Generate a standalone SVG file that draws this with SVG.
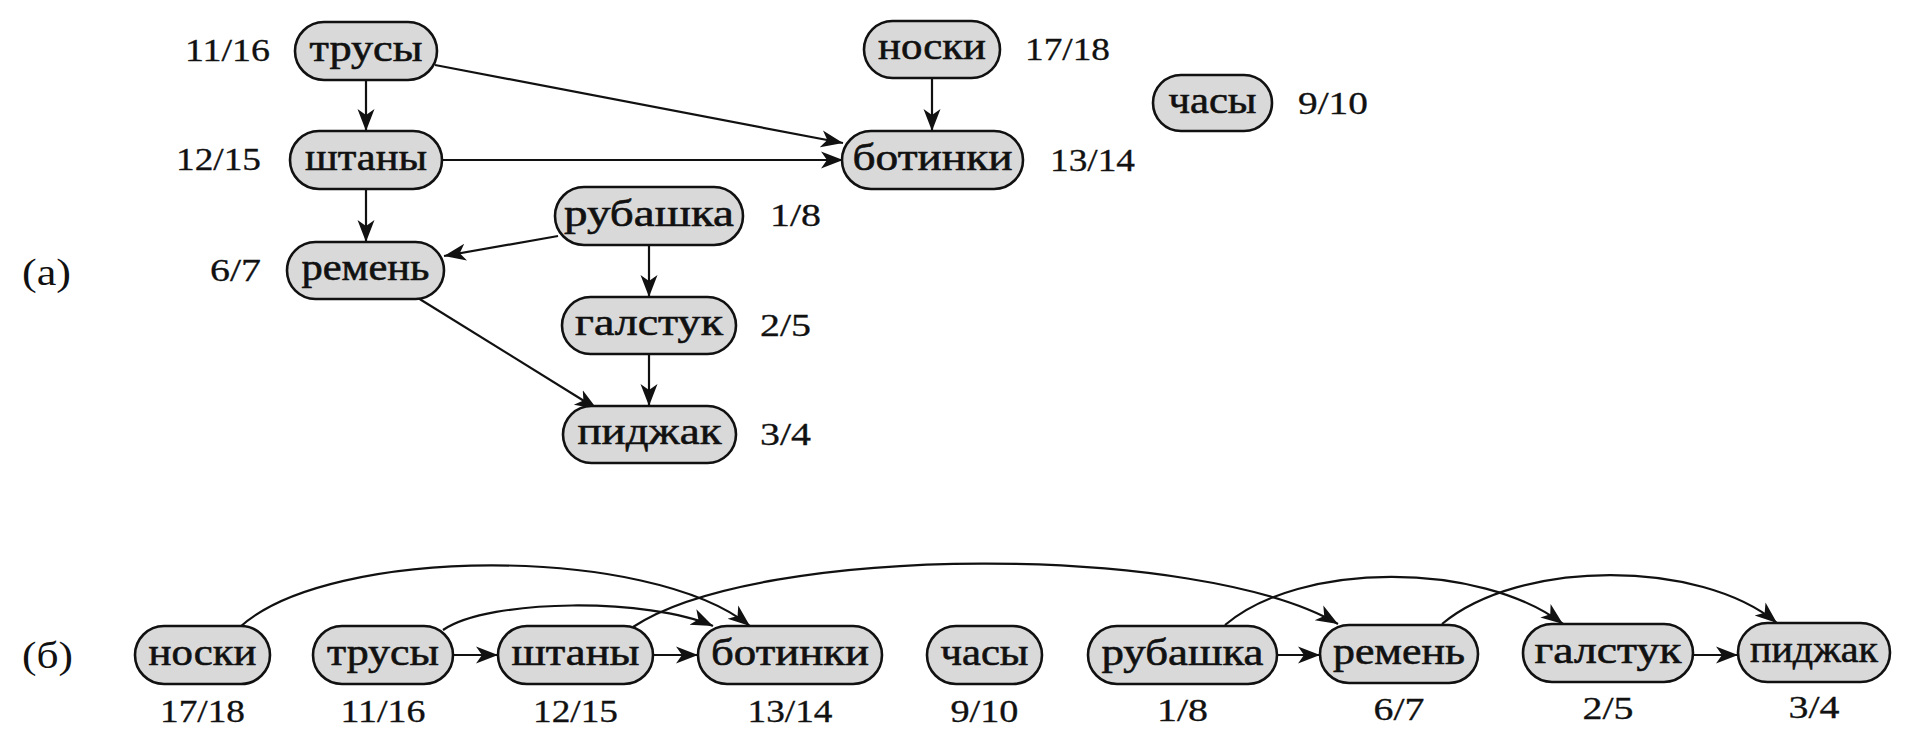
<svg xmlns="http://www.w3.org/2000/svg" width="1908" height="747" viewBox="0 0 1908 747">
  <style>
    .node rect { fill: #d9d9d9; stroke: #111; stroke-width: 2.6; }
    .node text { font-family: "Liberation Serif", "DejaVu Serif", serif; font-size: 38px; fill: #111; stroke: #111; stroke-width: 0.6; text-anchor: middle; }
    .num { font-family: "Liberation Serif", "DejaVu Serif", serif; font-size: 31px; fill: #111; stroke: #111; stroke-width: 0.3; }
    .part { font-family: "Liberation Serif", "DejaVu Serif", serif; font-size: 38px; fill: #111; }
    .edge { fill: none; stroke: #111; stroke-width: 2.2; marker-end: url(#arrow); }
  </style>
  <defs>
    <marker id="arrow" markerUnits="userSpaceOnUse" markerWidth="24" markerHeight="20" viewBox="0 0 24 20" refX="22" refY="10" orient="auto">
      <path d="M0,1.5 L22,10 L0,18.5 L6,10 Z" fill="#111"/>
    </marker>
  </defs>
  <rect width="1908" height="747" fill="#ffffff"/>

  <!-- part labels -->
  <text class="part" x="22" y="285" textLength="49" lengthAdjust="spacingAndGlyphs">(а)</text>
  <text class="part" x="22" y="668" textLength="51" lengthAdjust="spacingAndGlyphs">(б)</text>

  <!-- connectors -->
  <g id="connectors">
    <!-- (а) -->
    <path class="edge" d="M366,80 L366,131"/>
    <path class="edge" d="M366,189 L366,242"/>
    <path class="edge" d="M435,65 L843,143"/>
    <path class="edge" d="M442,160 L843,160"/>
    <path class="edge" d="M932,78 L932,131"/>
    <path class="edge" d="M558,236 L444,256"/>
    <path class="edge" d="M649,245 L649,297"/>
    <path class="edge" d="M649,354 L649,406"/>
    <path class="edge" d="M418,298 L597,409"/>
    <!-- (б) straight -->
    <path class="edge" d="M453,655 L498,655"/>
    <path class="edge" d="M653,655 L698,655"/>
    <path class="edge" d="M1277,655 L1320,655"/>
    <path class="edge" d="M1693,655 L1738,655"/>
    <!-- (б) arcs -->
    <path class="edge" d="M240,627 C330,545 650,545 750,626"/>
    <path class="edge" d="M443,630 C490,598 650,598 713,626"/>
    <path class="edge" d="M633,627 C760,543 1200,543 1338,624"/>
    <path class="edge" d="M1225,625 C1300,561 1480,561 1563,624"/>
    <path class="edge" d="M1442,624 C1520,559 1700,559 1777,623"/>
  </g>

  <!-- nodes (а) -->
  <g id="a-trusy" class="node"><rect x="295" y="22" width="142" height="58" rx="29"/><text x="366" y="61" textLength="113" lengthAdjust="spacingAndGlyphs">трусы</text></g>
  <g id="a-shtany" class="node"><rect x="290" y="131" width="152" height="58" rx="29"/><text x="366" y="170" textLength="122" lengthAdjust="spacingAndGlyphs">штаны</text></g>
  <g id="a-remen" class="node"><rect x="287" y="242" width="157" height="57" rx="28.5"/><text x="365.5" y="280" textLength="128" lengthAdjust="spacingAndGlyphs">ремень</text></g>
  <g id="a-rubashka" class="node"><rect x="555" y="187" width="188" height="58" rx="29"/><text x="649" y="226" textLength="170" lengthAdjust="spacingAndGlyphs">рубашка</text></g>
  <g id="a-galstuk" class="node"><rect x="562" y="297" width="174" height="57" rx="28.5"/><text x="649" y="335" textLength="148" lengthAdjust="spacingAndGlyphs">галстук</text></g>
  <g id="a-pidzhak" class="node"><rect x="563" y="406" width="173" height="57" rx="28.5"/><text x="649.5" y="444" textLength="144" lengthAdjust="spacingAndGlyphs">пиджак</text></g>
  <g id="a-noski" class="node"><rect x="864" y="21" width="136" height="57" rx="28.5"/><text x="932" y="59" textLength="108" lengthAdjust="spacingAndGlyphs">носки</text></g>
  <g id="a-botinki" class="node"><rect x="842" y="131" width="181" height="58" rx="29"/><text x="932.5" y="170" textLength="160" lengthAdjust="spacingAndGlyphs">ботинки</text></g>
  <g id="a-chasy" class="node"><rect x="1153" y="75" width="119" height="56" rx="28"/><text x="1212.5" y="113" textLength="88" lengthAdjust="spacingAndGlyphs">часы</text></g>

  <!-- times (а) -->
  <g id="a-times">
    <text class="num" x="185" y="61" textLength="85" lengthAdjust="spacingAndGlyphs">11/16</text>
    <text class="num" x="176" y="170" textLength="85" lengthAdjust="spacingAndGlyphs">12/15</text>
    <text class="num" x="210" y="281" textLength="51" lengthAdjust="spacingAndGlyphs">6/7</text>
    <text class="num" x="770" y="226" textLength="51" lengthAdjust="spacingAndGlyphs">1/8</text>
    <text class="num" x="760" y="336" textLength="51" lengthAdjust="spacingAndGlyphs">2/5</text>
    <text class="num" x="760" y="445" textLength="51" lengthAdjust="spacingAndGlyphs">3/4</text>
    <text class="num" x="1025" y="60" textLength="85" lengthAdjust="spacingAndGlyphs">17/18</text>
    <text class="num" x="1050" y="171" textLength="85" lengthAdjust="spacingAndGlyphs">13/14</text>
    <text class="num" x="1298" y="114" textLength="70" lengthAdjust="spacingAndGlyphs">9/10</text>
  </g>

  <!-- nodes (б) -->
  <g id="b-noski" class="node"><rect x="135" y="626" width="135" height="58" rx="29"/><text x="202.5" y="665" textLength="108" lengthAdjust="spacingAndGlyphs">носки</text></g>
  <g id="b-trusy" class="node"><rect x="313" y="626" width="140" height="58" rx="29"/><text x="383" y="665" textLength="112" lengthAdjust="spacingAndGlyphs">трусы</text></g>
  <g id="b-shtany" class="node"><rect x="498" y="626" width="155" height="58" rx="29"/><text x="575.5" y="665" textLength="128" lengthAdjust="spacingAndGlyphs">штаны</text></g>
  <g id="b-botinki" class="node"><rect x="698" y="626" width="184" height="58" rx="29"/><text x="790" y="665" textLength="158" lengthAdjust="spacingAndGlyphs">ботинки</text></g>
  <g id="b-chasy" class="node"><rect x="927" y="626" width="115" height="58" rx="29"/><text x="984.5" y="665" textLength="88" lengthAdjust="spacingAndGlyphs">часы</text></g>
  <g id="b-rubashka" class="node"><rect x="1088" y="626" width="189" height="58" rx="29"/><text x="1182.5" y="665" textLength="162" lengthAdjust="spacingAndGlyphs">рубашка</text></g>
  <g id="b-remen" class="node"><rect x="1320" y="625" width="158" height="58" rx="29"/><text x="1399" y="664" textLength="132" lengthAdjust="spacingAndGlyphs">ремень</text></g>
  <g id="b-galstuk" class="node"><rect x="1523" y="624" width="170" height="58" rx="29"/><text x="1608" y="663" textLength="147" lengthAdjust="spacingAndGlyphs">галстук</text></g>
  <g id="b-pidzhak" class="node"><rect x="1738" y="623" width="152" height="59" rx="29.5"/><text x="1814" y="662" textLength="128" lengthAdjust="spacingAndGlyphs">пиджак</text></g>

  <!-- times (б) -->
  <g id="b-times">
    <text class="num" x="202.5" y="722" text-anchor="middle" textLength="85" lengthAdjust="spacingAndGlyphs">17/18</text>
    <text class="num" x="383" y="722" text-anchor="middle" textLength="85" lengthAdjust="spacingAndGlyphs">11/16</text>
    <text class="num" x="575.5" y="722" text-anchor="middle" textLength="85" lengthAdjust="spacingAndGlyphs">12/15</text>
    <text class="num" x="790" y="722" text-anchor="middle" textLength="85" lengthAdjust="spacingAndGlyphs">13/14</text>
    <text class="num" x="984.5" y="722" text-anchor="middle" textLength="68" lengthAdjust="spacingAndGlyphs">9/10</text>
    <text class="num" x="1182.5" y="721" text-anchor="middle" textLength="51" lengthAdjust="spacingAndGlyphs">1/8</text>
    <text class="num" x="1399" y="720" text-anchor="middle" textLength="51" lengthAdjust="spacingAndGlyphs">6/7</text>
    <text class="num" x="1608" y="719" text-anchor="middle" textLength="51" lengthAdjust="spacingAndGlyphs">2/5</text>
    <text class="num" x="1814" y="718" text-anchor="middle" textLength="51" lengthAdjust="spacingAndGlyphs">3/4</text>
  </g>
</svg>
